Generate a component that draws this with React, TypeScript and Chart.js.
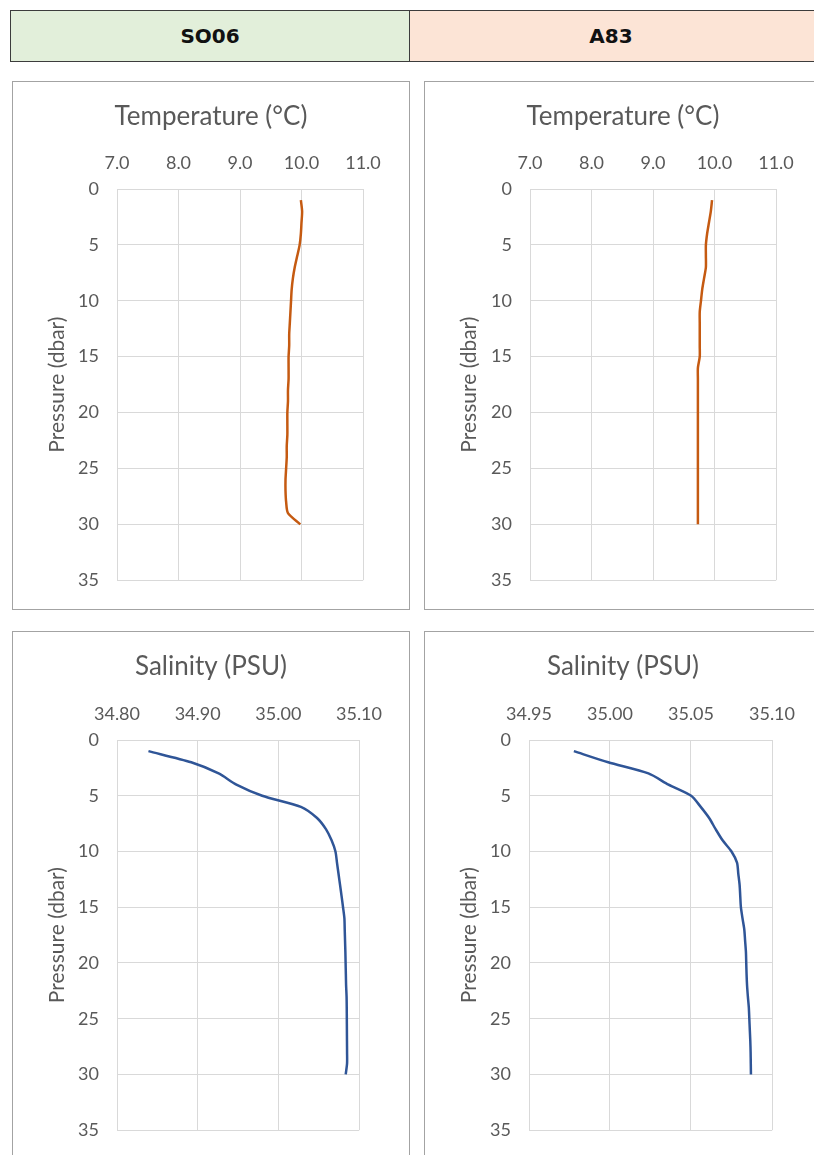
import React, { useEffect, useRef } from "react";
import { Chart, registerables } from "chart.js";

Chart.register(...registerables);

// Depth levels of the CTD casts (dbar)
const PRESSURE = [
  1, 2, 3, 4, 5, 6, 7, 8, 9, 10, 11, 12, 13, 14, 15, 16, 17, 18, 19, 20, 21, 22,
  23, 24, 25, 26, 27, 28, 29, 30,
];

// Station SO06
const SO06_TEMP = [
  9.99, 10.01, 10.0, 9.99, 9.97, 9.93, 9.89, 9.86, 9.84, 9.83, 9.82, 9.81, 9.8,
  9.8, 9.79, 9.79, 9.79, 9.78, 9.78, 9.77, 9.77, 9.77, 9.76, 9.76, 9.75, 9.74,
  9.74, 9.75, 9.78, 9.98,
];
const SO06_SAL = [
  34.839, 34.892, 34.926, 34.948, 34.98, 35.028, 35.048, 35.059, 35.066,
  35.0708, 35.0727, 35.0746, 35.0765, 35.0784, 35.0802, 35.0819, 35.0823,
  35.0827, 35.0831, 35.0834, 35.0837, 35.084, 35.0846, 35.0848, 35.0849,
  35.085, 35.0851, 35.0852, 35.0852, 35.0835,
];

// Station A83
const A83_TEMP = [
  9.96, 9.94, 9.91, 9.88, 9.86, 9.86, 9.86, 9.83, 9.8, 9.78, 9.76, 9.76, 9.76,
  9.76, 9.76, 9.73, 9.73, 9.73, 9.73, 9.73, 9.73, 9.73, 9.73, 9.73, 9.73, 9.73,
  9.73, 9.73, 9.73, 9.73,
];
const A83_SAL = [
  34.9777, 34.9989, 35.0237, 35.0361, 35.0501, 35.056, 35.0612, 35.0652,
  35.0695, 35.075, 35.0784, 35.0792, 35.08, 35.0804, 35.0808, 35.0818, 35.0829,
  35.0834, 35.0839, 35.0841, 35.0843, 35.0846, 35.0851, 35.0857, 35.086,
  35.0863, 35.0866, 35.0868, 35.0869, 35.087,
];

// Axis ticks
const PRESSURE_TICKS = [0, 5, 10, 15, 20, 25, 30, 35];
const TEMP_TICKS = [7, 8, 9, 10, 11];
const SO06_SAL_TICKS = [34.8, 34.9, 35.0, 35.1];
const A83_SAL_TICKS = [34.95, 35.0, 35.05, 35.1];

const STATIONS = ["SO06", "A83"];

const FONT = "Lato, 'Open Sans', sans-serif";
const TEXT = "#595959";
const GRID = "#d9d9d9";
const TEMP_COLOR = "#C55A11";
const SAL_COLOR = "#2F5597";

const CANVAS_W = 396;
const CANVAS_H = 527;

type ProfileProps = {
  title: string;
  values: number[];
  color: string;
  xTicks: number[];
  decimals: number;
  plotLeft: number;
  plotRight: number;
  plotTop: number;
  plotBottom: number;
};

function Profile(props: ProfileProps) {
  const ref = useRef<HTMLCanvasElement | null>(null);
  const { title, values, color, xTicks, decimals, plotLeft, plotRight, plotTop, plotBottom } = props;

  useEffect(() => {
    if (!ref.current) return;
    const titleBox = 50;
    const chart = new Chart(ref.current, {
      type: "scatter",
      data: {
        datasets: [
          {
            data: PRESSURE.map((p, i) => ({ x: values[i], y: p })),
            showLine: true,
            borderColor: color,
            backgroundColor: color,
            borderWidth: 2.5,
            pointRadius: 0,
            tension: 0.25,
          },
        ],
      },
      options: {
        animation: false,
        responsive: false,
        layout: { padding: { left: 0, right: 0, top: 0, bottom: CANVAS_H - plotBottom } },
        plugins: {
          legend: { display: false },
          tooltip: { enabled: false },
          title: {
            display: true,
            text: title,
            color: TEXT,
            font: { family: FONT, size: 26, weight: "normal", lineHeight: "30px" },
            padding: { top: 20, bottom: 0 },
          },
        },
        scales: {
          x: {
            type: "linear",
            position: "top",
            min: xTicks[0],
            max: xTicks[xTicks.length - 1],
            afterBuildTicks: (s: any) => {
              s.ticks = xTicks.map((v) => ({ value: v }));
            },
            afterFit: (s: any) => {
              s.height = plotTop - titleBox;
            },
            grid: { color: GRID, drawTicks: false },
            border: { color: GRID },
            ticks: {
              color: TEXT,
              font: { family: FONT, size: 18 },
              padding: 15,
              maxRotation: 0,
              callback: (v: any) => Number(v).toFixed(decimals),
            },
          },
          y: {
            type: "linear",
            position: "left",
            reverse: true,
            min: PRESSURE_TICKS[0],
            max: PRESSURE_TICKS[PRESSURE_TICKS.length - 1],
            afterBuildTicks: (s: any) => {
              s.ticks = PRESSURE_TICKS.map((v) => ({ value: v }));
            },
            afterFit: (s: any) => {
              s.width = plotLeft;
            },
            grid: { color: GRID, drawTicks: false },
            border: { color: GRID },
            title: {
              display: true,
              text: "Pressure (dbar)",
              color: TEXT,
              font: { family: FONT, size: 21, lineHeight: "22px" },
              padding: { top: 33, bottom: 0 },
            },
            ticks: {
              color: TEXT,
              font: { family: FONT, size: 18 },
              padding: 18,
              callback: (v: any) => String(v),
            },
          },
          yRight: {
            type: "linear",
            position: "right",
            display: true,
            afterFit: (s: any) => {
              s.width = CANVAS_W - plotRight;
            },
            grid: { display: false, drawTicks: false },
            border: { display: false },
            ticks: { display: false },
          },
        },
      },
    } as any);
    return () => chart.destroy();
  }, [title, values, color, xTicks, decimals, plotLeft, plotRight, plotTop, plotBottom]);

  return <canvas ref={ref} width={CANVAS_W} height={CANVAS_H} style={{ display: "block" }} />;
}

const panelStyle = (left: number, top: number): React.CSSProperties => ({
  position: "absolute",
  left,
  top,
  width: CANVAS_W,
  height: CANVAS_H,
  border: "1px solid #a3a3a3",
  background: "#fff",
});

export default function App() {
  return (
    <div
      style={{
        position: "absolute",
        left: 0,
        top: 0,
        width: 814,
        height: 1155,
        overflow: "hidden",
        background: "#fff",
      }}
    >
      <div
        style={{
          position: "absolute",
          left: 10,
          top: 10,
          width: 820,
          height: 50,
          border: "1px solid #3c3c3c",
          display: "flex",
          fontFamily: "'DejaVu Sans', sans-serif",
          fontWeight: "bold",
          fontSize: 20,
          color: "#111",
        }}
      >
        <div
          style={{
            flex: "0 0 398px",
            background: "#E2EFDA",
            borderRight: "1px solid #3c3c3c",
            display: "flex",
            alignItems: "center",
            justifyContent: "center",
          }}
        >
          {STATIONS[0]}
        </div>
        <div
          style={{
            flex: "1 1 auto",
            background: "#FCE4D6",
            display: "flex",
            alignItems: "center",
            justifyContent: "center",
            paddingRight: 19,
          }}
        >
          {STATIONS[1]}
        </div>
      </div>

      <div style={panelStyle(12, 81)}>
        <Profile
          title="Temperature (°C)"
          values={SO06_TEMP}
          color={TEMP_COLOR}
          xTicks={TEMP_TICKS}
          decimals={1}
          plotLeft={104}
          plotRight={350}
          plotTop={107}
          plotBottom={502}
        />
      </div>
      <div style={panelStyle(424, 81)}>
        <Profile
          title="Temperature (°C)"
          values={A83_TEMP}
          color={TEMP_COLOR}
          xTicks={TEMP_TICKS}
          decimals={1}
          plotLeft={105}
          plotRight={351}
          plotTop={107}
          plotBottom={502}
        />
      </div>
      <div style={panelStyle(12, 631)}>
        <Profile
          title="Salinity (PSU)"
          values={SO06_SAL}
          color={SAL_COLOR}
          xTicks={SO06_SAL_TICKS}
          decimals={2}
          plotLeft={104}
          plotRight={346}
          plotTop={108}
          plotBottom={502}
        />
      </div>
      <div style={panelStyle(424, 631)}>
        <Profile
          title="Salinity (PSU)"
          values={A83_SAL}
          color={SAL_COLOR}
          xTicks={A83_SAL_TICKS}
          decimals={2}
          plotLeft={104}
          plotRight={347}
          plotTop={108}
          plotBottom={502}
        />
      </div>
    </div>
  );
}
